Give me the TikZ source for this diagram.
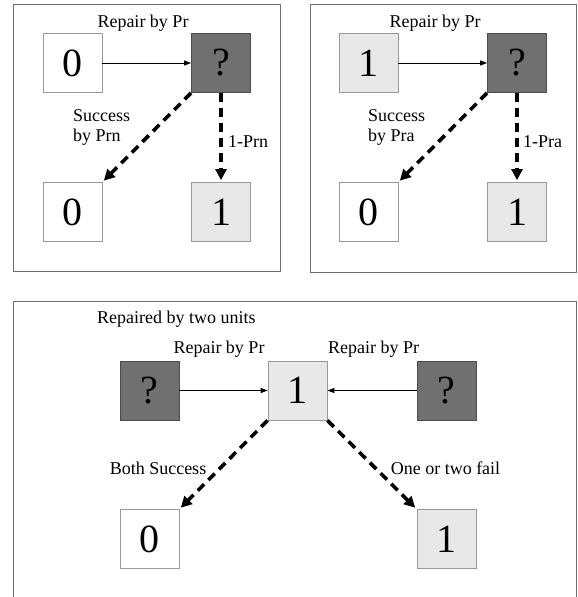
\documentclass[tikz,border=0pt]{standalone}
\usepackage{fontspec}
\setmainfont{Liberation Serif}
\usetikzlibrary{arrows.meta}
\definecolor{darkq}{RGB}{112,112,112}
\definecolor{lightq}{RGB}{232,232,232}
\definecolor{framec}{RGB}{110,110,110}
\tikzset{
  box/.style={minimum width=59pt, minimum height=59pt, inner sep=0pt, font=\fontsize{40}{40}\selectfont},
  whitebox/.style={box, draw=gray!80, fill=white, line width=0.8pt},
  lightbox/.style={box, draw=gray!80, fill=lightq, line width=0.8pt},
  darkbox/.style={box, draw=black!70, fill=darkq, line width=0.8pt},
  lbl/.style={font=\fontsize{18}{20}\selectfont, inner sep=0pt},
  frameline/.style={draw=framec, line width=1pt},
  solidarrow/.style={line width=1pt, -{Triangle[length=7pt,width=5pt]}},
  dasharrow/.style={line width=3.6pt, dash pattern=on 9pt off 6pt, shorten >=2pt, -{Triangle[length=11pt,width=11pt]}}
}
\begin{document}
\begin{tikzpicture}[x=1pt,y=-1pt]
\useasboundingbox (0,0) rectangle (578,597);
\fill[white] (0,0) rectangle (578,597);
% frames
\draw[frameline] (13,4) rectangle (280,271);
\draw[frameline] (310,4) rectangle (576,272);
\draw[frameline] (13,597) -- (13,301) -- (576,301) -- (576,597);

% top-left panel
\node[whitebox] (a0) at (72.5,63) {0};
\node[darkbox] (aq) at (221,63) {?};
\node[whitebox] (az) at (72.5,212) {0};
\node[lightbox] (ao) at (221,212) {1};
\node[lbl] (arep) at (143,23) {Repair by Pr};
\node[lbl, align=left, anchor=west] (asuc) at (73,127) {Success\\by Prn};
\node[lbl, anchor=west] (aprn) at (228,142) {1-Prn};
\draw[solidarrow] (a0) -- (aq);
\draw[dasharrow] (aq.south west) -- (az.north east);
\draw[dasharrow] (aq.south) -- (ao.north);

% top-right panel
\node[lightbox] (b1) at (368.5,63) {1};
\node[darkbox] (bq) at (517,63) {?};
\node[whitebox] (bz) at (368.5,212) {0};
\node[lightbox] (bo) at (517,212) {1};
\node[lbl] (brep) at (435,23) {Repair by Pr};
\node[lbl, align=left, anchor=west] (bsuc) at (368,127) {Success\\by Pra};
\node[lbl, anchor=west] (bpra) at (523,142) {1-Pra};
\draw[solidarrow] (b1) -- (bq);
\draw[dasharrow] (bq.south west) -- (bz.north east);
\draw[dasharrow] (bq.south) -- (bo.north);

% bottom panel
\node[darkbox] (cl) at (149.5,390.5) {?};
\node[lightbox] (cc) at (297.5,390.5) {1};
\node[darkbox] (cr) at (446.5,390.5) {?};
\node[whitebox] (cz) at (149.5,539) {0};
\node[lightbox] (co) at (446.5,539) {1};
\node[lbl, anchor=west] (ctitle) at (97,319) {Repaired by two units};
\node[lbl] (crepl) at (219,349) {Repair by Pr};
\node[lbl] (crepr) at (373.5,349) {Repair by Pr};
\node[lbl] (cboth) at (158,468) {Both Success};
\node[lbl] (cfail) at (445.5,468) {One or two fail};
\draw[solidarrow] (cl) -- (cc);
\draw[solidarrow] (cr) -- (cc);
\draw[dasharrow] (cc.south west) -- (cz.north east);
\draw[dasharrow] (cc.south east) -- (co.north west);
\end{tikzpicture}
\end{document}
